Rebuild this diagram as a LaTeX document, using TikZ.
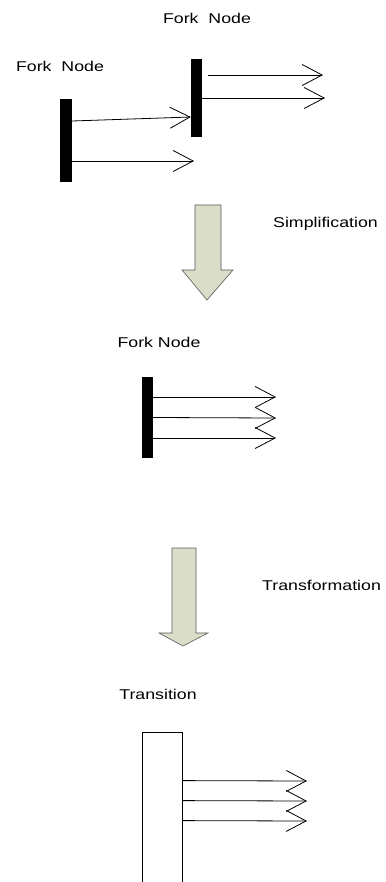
\documentclass[tikz,border=0pt]{standalone}
\usepackage{fontspec}
\setmainfont[FakeStretch=1.25]{Liberation Sans}
\usepackage{xcolor}
\usetikzlibrary{arrows.meta}
\definecolor{stepfill}{RGB}{218,222,200}

\begin{document}
\begin{tikzpicture}[
  x=1pt, y=-1pt,
  bar/.style={fill=black, inner sep=0pt, minimum width=11pt},
  transbox/.style={draw, line width=0.8pt, fill=white, inner sep=0pt, minimum width=40pt, minimum height=170pt},
  flow/.style={-{Straight Barb[length=20pt, width=21pt, line width=0.8pt]}, line width=0.8pt},
  bigarrow/.style={draw=black!65, line width=0.6pt, fill=stepfill},
  lbl/.style={font=\fontsize{14.2}{16}\selectfont, inner sep=0pt}
]
\clip (0,0) rectangle (385,882);

% first stage: two fork nodes
\node[bar, minimum width=12pt, minimum height=83pt] (leftfork) at (66,140.5) {};
\node[bar, minimum height=78pt] (topfork) at (196.5,98) {};
\node[lbl] (leftlbl) at (60,66) {Fork\ \ Node};
\node[lbl] (toplbl) at (207,18) {Fork\ \ Node};

\coordinate (leftout) at (194,161);
\coordinate (topout1) at (323,75);
\coordinate (topout2) at (325,98);

\draw[flow] ([yshift=19.5pt]leftfork.east) -- ([yshift=-19pt]topfork.west);
\draw[flow] ([yshift=-20.5pt]leftfork.east) -- (leftout);
\draw[flow] ([xshift=6pt, yshift=23pt]topfork.east) -- (topout1);
\draw[flow] (topfork.east) -- (topout2);

% simplification step
\draw[bigarrow] (195,205) -- (221,205) -- (221,270) -- (233,270) -- (207,300)
  -- (182,270) -- (195,270) -- cycle;
\node[lbl, anchor=west] (simplbl) at (273,224) {Simplification};

% second stage: one fork node
\node[bar, minimum height=81pt] (midfork) at (147.5,417.5) {};
\node[lbl] (midlbl) at (159,342) {Fork Node};

\coordinate (midout1) at (276,397);
\coordinate (midout2) at (276,418);
\coordinate (midout3) at (276,438);

\draw[flow] ([yshift=20.5pt]midfork.east) -- (midout1);
\draw[flow] (midfork.east) -- (midout2);
\draw[flow] ([yshift=-20.5pt]midfork.east) -- (midout3);

% transformation step
\draw[bigarrow] (172,548) -- (196,548) -- (196,633) -- (208,633) -- (183,646)
  -- (159,633) -- (172,633) -- cycle;
\node[lbl, anchor=west] (translbl) at (262,585) {Transformation};

% third stage: transition
\node[transbox] (trans) at (162,817) {};
\node[lbl] (translabel) at (158,694) {Transition};

\coordinate (transout1) at (307,781);
\coordinate (transout2) at (307,801);
\coordinate (transout3) at (307,821);

\draw[flow] ([yshift=-49pt]trans.north east) -- (transout1);
\draw[flow] ([yshift=-69pt]trans.north east) -- (transout2);
\draw[flow] ([yshift=-89pt]trans.north east) -- (transout3);
\end{tikzpicture}
\end{document}
